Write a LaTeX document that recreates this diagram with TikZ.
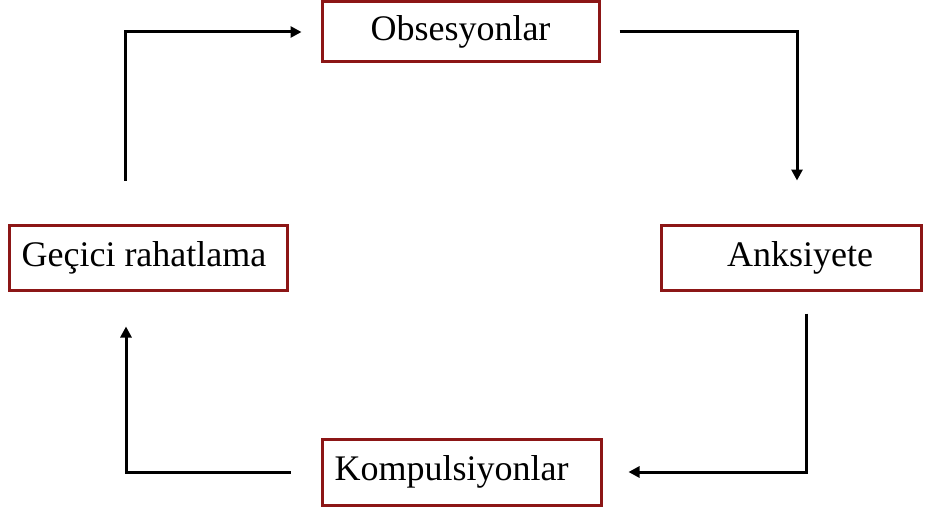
\documentclass[tikz,border=0pt]{standalone}
\usepackage{fontspec}
\setmainfont{Liberation Serif}
\usetikzlibrary{arrows.meta}
\definecolor{boxred}{RGB}{140,22,22}
\tikzset{
  stage/.style={draw=boxred, line width=3pt, inner sep=0pt, font=\fontsize{36}{40}\selectfont},
  flow/.style={line width=3pt, -{Triangle[length=11pt,width=11pt]}}
}
\begin{document}
\begin{tikzpicture}[x=1pt,y=-1pt]
\useasboundingbox (0,0) rectangle (934,511);

\node[stage, minimum width=277pt, minimum height=60pt] (obs) at (460.5,32) {Obsesyonlar};
\node[stage, minimum width=260pt, minimum height=65pt] (anks) at (791,257.5) {\kern18pt Anksiyete};
\node[stage, minimum width=278pt, minimum height=65pt] (gecici) at (148,257.5) {\kern-8pt Geçici rahatlama};
\node[stage, minimum width=279pt, minimum height=66pt] (komp) at (461.5,472) {\kern-20pt Kompulsiyonlar};

\draw[flow, shorten <=43pt, shorten >=19pt] ([xshift=-23pt]gecici.north) |- (obs.west);
\draw[flow, shorten <=19pt, shorten >=43pt] (obs.east) -| ([xshift=6pt]anks.north);
\draw[flow, shorten <=22pt, shorten >=26pt] ([xshift=15pt]anks.south) |- (komp.east);
\draw[flow, shorten <=30pt, shorten >=35pt] (komp.west) -| ([xshift=-22pt]gecici.south);
\end{tikzpicture}
\end{document}
